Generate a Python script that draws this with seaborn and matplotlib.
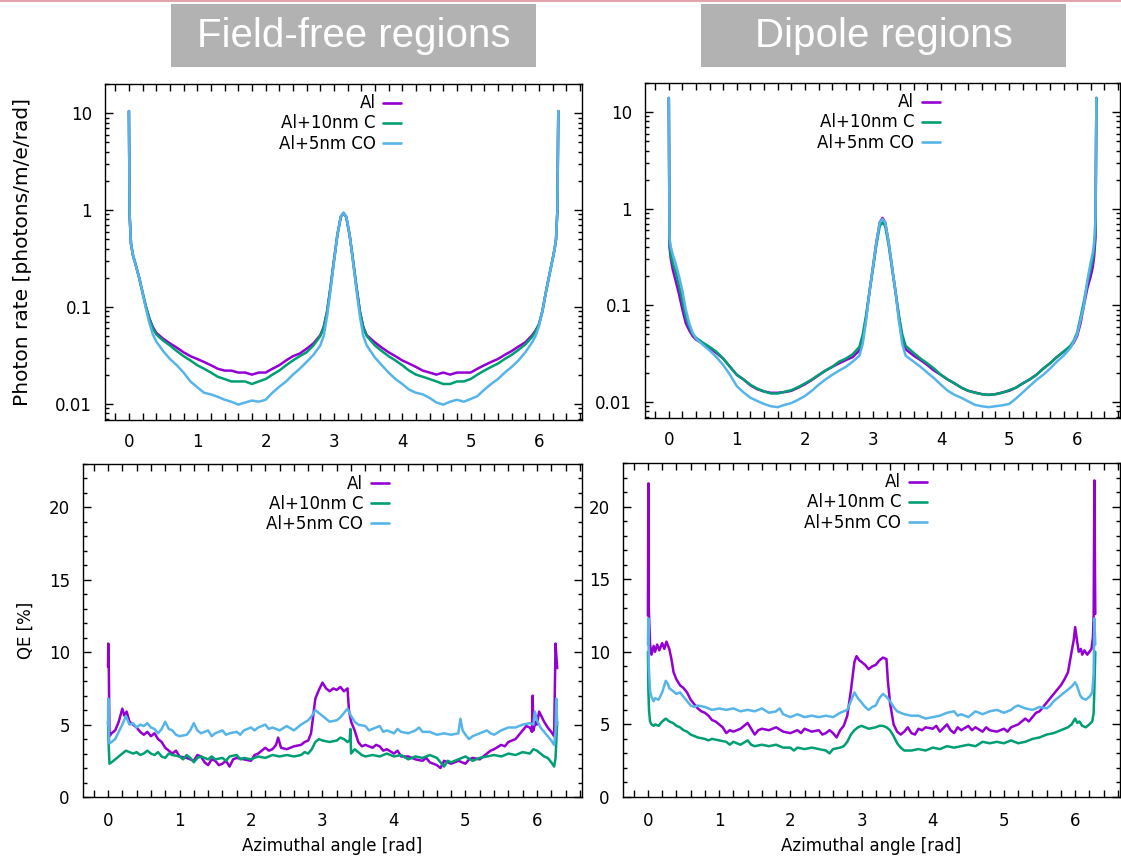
import matplotlib
matplotlib.use("Agg")
import numpy as np
import pandas as pd
import matplotlib.pyplot as plt
import seaborn as sns
from matplotlib.ticker import MultipleLocator, FixedLocator, FuncFormatter, NullFormatter
from matplotlib.patches import Rectangle
from matplotlib.lines import Line2D

# ---------------- data ----------------
series_names = ["Al", "Al+10nm C", "Al+5nm CO"]
series_colors = ["#9400D3", "#009E73", "#56B4E9"]
panel_titles = ["Field-free regions", "Dipole regions"]

# shared angle grid for the photon-rate panels [rad]
angle_rate = [0.0, 0.01, 0.03, 0.06, 0.1, 0.15, 0.2, 0.25, 0.3, 0.35,
              0.4, 0.5, 0.6, 0.7, 0.8, 0.9, 1.0, 1.1, 1.2, 1.3,
              1.4, 1.5, 1.6, 1.7, 1.8, 1.9, 2.0, 2.1, 2.2, 2.3,
              2.4, 2.5, 2.6, 2.7, 2.8, 2.85, 2.9, 2.95, 3.0, 3.05,
              3.1, 3.14, 3.18, 3.23, 3.28, 3.33, 3.38, 3.43, 3.48, 3.6,
              3.7, 3.8, 3.9, 4.0, 4.1, 4.2, 4.3, 4.4, 4.5, 4.6,
              4.7, 4.8, 4.9, 5.0, 5.1, 5.2, 5.3, 5.4, 5.5, 5.6,
              5.7, 5.8, 5.9, 5.95, 6.0, 6.05, 6.1, 6.15, 6.2, 6.23,
              6.25, 6.27, 6.283]

# field-free photon rate [photons/m/e/rad]
rate_ff_al = [10.5, 0.9, 0.45, 0.34, 0.27, 0.2, 0.14, 0.1, 0.076, 0.062,
              0.054, 0.047, 0.042, 0.038, 0.034, 0.031, 0.029, 0.027, 0.025, 0.023,
              0.022, 0.022, 0.021, 0.021, 0.020, 0.021, 0.021, 0.023, 0.025, 0.028,
              0.031, 0.033, 0.037, 0.042, 0.051, 0.062, 0.09, 0.16, 0.30, 0.55,
              0.85, 0.93, 0.85, 0.55, 0.30, 0.16, 0.09, 0.062, 0.051, 0.043,
              0.038, 0.034, 0.031, 0.028, 0.026, 0.024, 0.022, 0.021, 0.020, 0.021,
              0.020, 0.021, 0.021, 0.021, 0.023, 0.025, 0.027, 0.029, 0.032, 0.035,
              0.039, 0.043, 0.051, 0.057, 0.066, 0.09, 0.14, 0.21, 0.31, 0.40,
              0.50, 1.0, 10.5]
rate_ff_c = [10.5, 0.9, 0.45, 0.34, 0.27, 0.2, 0.14, 0.1, 0.075, 0.06,
             0.052, 0.045, 0.040, 0.035, 0.031, 0.028, 0.025, 0.023, 0.021, 0.019,
             0.018, 0.017, 0.017, 0.017, 0.016, 0.017, 0.018, 0.020, 0.022, 0.025,
             0.028, 0.031, 0.034, 0.040, 0.050, 0.061, 0.09, 0.16, 0.30, 0.55,
             0.85, 0.93, 0.85, 0.55, 0.30, 0.16, 0.09, 0.061, 0.050, 0.040,
             0.035, 0.031, 0.028, 0.025, 0.022, 0.020, 0.019, 0.018, 0.017, 0.016,
             0.016, 0.017, 0.017, 0.018, 0.020, 0.022, 0.024, 0.026, 0.029, 0.032,
             0.036, 0.041, 0.049, 0.056, 0.066, 0.09, 0.14, 0.21, 0.31, 0.40,
             0.50, 1.0, 10.5]
rate_ff_co = [10.5, 0.9, 0.45, 0.34, 0.27, 0.2, 0.14, 0.095, 0.068, 0.052,
              0.044, 0.035, 0.029, 0.025, 0.021, 0.017, 0.0148, 0.013, 0.0125, 0.0118,
              0.011, 0.0105, 0.0098, 0.0103, 0.0108, 0.0105, 0.011, 0.013, 0.015, 0.017,
              0.020, 0.023, 0.027, 0.032, 0.040, 0.05, 0.08, 0.15, 0.29, 0.55,
              0.86, 0.94, 0.86, 0.55, 0.29, 0.15, 0.08, 0.05, 0.040, 0.030,
              0.025, 0.021, 0.018, 0.016, 0.014, 0.013, 0.0125, 0.0115, 0.0103, 0.0098,
              0.0105, 0.011, 0.0105, 0.0112, 0.012, 0.014, 0.016, 0.018, 0.021, 0.024,
              0.028, 0.034, 0.043, 0.05, 0.063, 0.09, 0.14, 0.21, 0.31, 0.40,
              0.50, 1.0, 10.5]

# dipole photon rate [photons/m/e/rad]
rate_dp_al = [14.0, 0.4, 0.3, 0.23, 0.18, 0.13, 0.09, 0.065, 0.055, 0.048,
              0.044, 0.040, 0.036, 0.032, 0.028, 0.023, 0.019, 0.017, 0.0148, 0.0135,
              0.0128, 0.0124, 0.0124, 0.0126, 0.013, 0.014, 0.0152, 0.0168, 0.0188, 0.021,
              0.023, 0.025, 0.027, 0.029, 0.034, 0.045, 0.075, 0.14, 0.25, 0.45,
              0.72, 0.80, 0.72, 0.45, 0.25, 0.14, 0.075, 0.045, 0.035, 0.030,
              0.027, 0.024, 0.021, 0.019, 0.017, 0.0155, 0.014, 0.013, 0.0125, 0.012,
              0.0118, 0.012, 0.0125, 0.013, 0.014, 0.0155, 0.017, 0.019, 0.022, 0.025,
              0.029, 0.033, 0.037, 0.041, 0.048, 0.065, 0.1, 0.15, 0.2, 0.25,
              0.32, 0.5, 14.0]
rate_dp_c = [14.0, 0.45, 0.33, 0.27, 0.22, 0.16, 0.11, 0.075, 0.06, 0.05,
             0.046, 0.041, 0.037, 0.033, 0.028, 0.023, 0.019, 0.017, 0.015, 0.0137,
             0.0128, 0.0122, 0.0122, 0.0127, 0.0132, 0.0142, 0.0155, 0.017, 0.019, 0.021,
             0.023, 0.026, 0.028, 0.031, 0.037, 0.05, 0.08, 0.14, 0.24, 0.42,
             0.66, 0.72, 0.66, 0.42, 0.24, 0.14, 0.08, 0.05, 0.038, 0.032,
             0.028, 0.025, 0.022, 0.019, 0.017, 0.0155, 0.014, 0.013, 0.0124, 0.012,
             0.0118, 0.012, 0.0124, 0.0132, 0.014, 0.0155, 0.017, 0.019, 0.022, 0.025,
             0.029, 0.033, 0.038, 0.043, 0.052, 0.075, 0.11, 0.17, 0.24, 0.3,
             0.38, 0.6, 14.0]
rate_dp_co = [14.0, 0.5, 0.4, 0.33, 0.27, 0.2, 0.14, 0.09, 0.065, 0.052,
              0.045, 0.039, 0.034, 0.029, 0.024, 0.019, 0.0145, 0.0125, 0.011, 0.0102,
              0.0095, 0.009, 0.0088, 0.0093, 0.0097, 0.0105, 0.0115, 0.013, 0.015, 0.017,
              0.019, 0.021, 0.023, 0.026, 0.030, 0.04, 0.07, 0.14, 0.25, 0.45,
              0.72, 0.78, 0.72, 0.45, 0.25, 0.14, 0.07, 0.04, 0.030, 0.026,
              0.023, 0.020, 0.0175, 0.015, 0.013, 0.0118, 0.011, 0.0101, 0.0093, 0.009,
              0.0088, 0.009, 0.0092, 0.0095, 0.0108, 0.0125, 0.0145, 0.0168, 0.019, 0.022,
              0.026, 0.030, 0.036, 0.042, 0.05, 0.07, 0.1, 0.18, 0.28, 0.35,
              0.45, 0.8, 14.0]

# field-free QE [%]: (angle [rad], QE)
qe_ff_al = [(0.0, 9.0), (0.004, 10.6), (0.012, 8.5), (0.02, 4.2), (0.05, 4.4), (0.1, 4.6),
            (0.15, 5.2), (0.2, 6.1), (0.23, 5.6), (0.26, 5.9), (0.3, 5.2), (0.35, 5.0),
            (0.4, 4.8), (0.45, 4.5), (0.5, 4.3), (0.55, 4.5), (0.6, 4.2), (0.65, 4.4),
            (0.7, 4.0), (0.75, 3.8), (0.8, 3.4), (0.85, 3.2), (0.9, 3.0), (0.95, 3.2),
            (1.0, 2.8), (1.1, 2.7), (1.2, 2.5), (1.25, 2.9), (1.3, 2.8), (1.35, 2.4),
            (1.4, 2.2), (1.45, 2.6), (1.5, 2.5), (1.55, 2.2), (1.6, 2.3), (1.65, 2.5),
            (1.7, 2.1), (1.75, 2.6), (1.8, 2.7), (1.9, 2.6), (2.0, 2.5), (2.05, 2.9),
            (2.1, 3.0), (2.2, 3.4), (2.25, 3.2), (2.3, 3.3), (2.35, 3.6), (2.38, 4.1),
            (2.42, 3.4), (2.5, 3.3), (2.6, 3.5), (2.7, 3.6), (2.75, 3.8), (2.8, 3.9),
            (2.84, 4.4), (2.87, 5.6), (2.9, 6.8), (2.95, 7.4), (3.0, 7.9), (3.05, 7.5),
            (3.1, 7.3), (3.15, 7.5), (3.2, 7.4), (3.25, 7.6), (3.3, 7.3), (3.35, 7.5),
            (3.37, 6.0), (3.4, 5.2), (3.45, 4.6), (3.5, 3.8), (3.55, 3.5), (3.6, 3.6),
            (3.7, 3.4), (3.75, 3.6), (3.8, 3.5), (3.85, 3.2), (3.9, 3.3), (4.0, 3.0),
            (4.05, 3.2), (4.1, 2.8), (4.2, 2.8), (4.3, 2.6), (4.4, 2.5), (4.45, 2.7),
            (4.5, 2.4), (4.6, 2.2), (4.65, 2.0), (4.7, 2.5), (4.8, 2.3), (4.9, 2.5),
            (5.0, 2.3), (5.05, 2.6), (5.1, 2.7), (5.2, 2.6), (5.3, 3.0), (5.35, 3.2),
            (5.4, 3.3), (5.5, 3.6), (5.55, 3.5), (5.6, 3.8), (5.7, 4.0), (5.75, 4.3),
            (5.8, 4.6), (5.85, 4.9), (5.9, 4.8), (5.93, 4.5), (5.94, 7.0), (5.95, 4.6),
            (5.98, 5.2), (6.0, 5.0), (6.03, 5.9), (6.07, 5.5), (6.1, 5.2), (6.15, 4.8),
            (6.2, 4.5), (6.24, 4.2), (6.26, 10.6), (6.283, 8.9)]
qe_ff_c = [(0.0, 5.2), (0.01, 3.5), (0.02, 2.3), (0.05, 2.4), (0.1, 2.6), (0.15, 2.8),
           (0.2, 3.0), (0.25, 3.2), (0.3, 3.1), (0.35, 3.0), (0.4, 3.1), (0.45, 2.9),
           (0.5, 3.0), (0.55, 3.2), (0.6, 3.0), (0.65, 2.9), (0.7, 3.1), (0.75, 2.8),
           (0.8, 2.7), (0.85, 3.0), (0.9, 2.9), (1.0, 2.8), (1.05, 2.6), (1.1, 2.9),
           (1.15, 2.7), (1.2, 2.4), (1.25, 2.7), (1.3, 2.8), (1.4, 2.6), (1.45, 2.8),
           (1.5, 2.6), (1.6, 2.7), (1.65, 2.5), (1.7, 2.8), (1.8, 2.9), (1.85, 2.6),
           (1.9, 2.7), (2.0, 2.6), (2.1, 2.8), (2.2, 2.7), (2.3, 2.9), (2.4, 2.8),
           (2.5, 2.9), (2.6, 2.8), (2.7, 2.9), (2.75, 3.1), (2.8, 3.0), (2.85, 3.3),
           (2.9, 3.8), (2.95, 4.0), (3.0, 3.9), (3.1, 3.8), (3.2, 3.9), (3.25, 4.1),
           (3.3, 4.0), (3.35, 3.8), (3.38, 3.9), (3.39, 4.7), (3.4, 3.0), (3.45, 3.3),
           (3.5, 3.1), (3.55, 2.9), (3.6, 2.8), (3.7, 2.9), (3.8, 2.8), (3.9, 3.0),
           (4.0, 2.8), (4.1, 2.9), (4.2, 2.6), (4.3, 2.8), (4.4, 2.7), (4.5, 2.9),
           (4.6, 2.7), (4.65, 2.4), (4.7, 2.1), (4.75, 2.5), (4.8, 2.4), (4.9, 2.6),
           (5.0, 2.8), (5.1, 2.5), (5.2, 2.7), (5.3, 2.8), (5.4, 2.9), (5.5, 2.8),
           (5.6, 3.0), (5.7, 2.9), (5.8, 3.1), (5.9, 3.0), (5.95, 3.3), (6.0, 3.2),
           (6.05, 3.0), (6.1, 2.8), (6.15, 2.7), (6.2, 2.4), (6.24, 2.1), (6.26, 2.7),
           (6.283, 5.2)]
qe_ff_co = [(0.0, 5.0), (0.003, 6.8), (0.01, 4.5), (0.02, 3.7), (0.05, 3.8), (0.1, 4.0),
            (0.15, 4.5), (0.2, 5.0), (0.25, 5.6), (0.3, 5.0), (0.35, 5.1), (0.4, 4.8),
            (0.45, 5.0), (0.5, 4.9), (0.55, 5.1), (0.6, 4.8), (0.65, 4.7), (0.7, 4.4),
            (0.75, 4.7), (0.8, 5.2), (0.85, 4.7), (0.9, 4.6), (0.95, 4.3), (1.0, 4.2),
            (1.1, 4.3), (1.15, 4.6), (1.2, 5.1), (1.25, 4.6), (1.3, 4.4), (1.4, 4.6),
            (1.45, 4.2), (1.5, 4.4), (1.6, 4.6), (1.65, 4.3), (1.7, 4.4), (1.8, 4.5),
            (1.85, 4.3), (1.9, 4.6), (2.0, 4.8), (2.05, 4.6), (2.1, 4.8), (2.2, 5.0),
            (2.25, 4.7), (2.3, 4.8), (2.4, 4.6), (2.5, 4.9), (2.6, 4.6), (2.7, 5.0),
            (2.8, 5.3), (2.85, 5.6), (2.9, 6.0), (2.95, 5.8), (3.0, 5.6), (3.05, 5.4),
            (3.1, 5.2), (3.2, 5.3), (3.25, 5.5), (3.3, 5.8), (3.35, 6.1), (3.4, 5.6),
            (3.45, 5.2), (3.5, 5.0), (3.6, 4.9), (3.65, 4.6), (3.7, 4.7), (3.8, 4.9),
            (3.85, 4.5), (3.9, 4.6), (4.0, 4.4), (4.05, 4.7), (4.1, 4.5), (4.2, 4.4),
            (4.3, 4.6), (4.35, 4.8), (4.4, 4.5), (4.5, 4.5), (4.6, 4.3), (4.7, 4.4),
            (4.8, 4.3), (4.9, 4.4), (4.93, 5.4), (4.96, 4.6), (5.0, 4.3), (5.05, 4.0),
            (5.1, 4.2), (5.2, 4.4), (5.3, 4.6), (5.35, 4.4), (5.4, 4.3), (5.5, 4.6),
            (5.6, 4.8), (5.7, 4.8), (5.8, 5.0), (5.9, 5.1), (5.95, 5.0), (5.97, 5.9),
            (6.0, 5.3), (6.05, 4.8), (6.1, 4.5), (6.15, 4.2), (6.2, 3.9), (6.24, 3.6),
            (6.26, 4.5), (6.27, 6.8), (6.283, 5.0)]

# dipole QE [%]: (angle [rad], QE)
qe_dp_al = [(0.0, 12.5), (0.006, 21.6), (0.012, 13.0), (0.03, 10.5), (0.05, 9.8), (0.08, 10.4),
            (0.1, 10.0), (0.13, 10.5), (0.16, 10.1), (0.2, 10.6), (0.23, 10.2), (0.26, 10.7),
            (0.3, 10.2), (0.33, 9.5), (0.36, 8.6), (0.4, 8.1), (0.45, 7.7), (0.5, 7.5),
            (0.55, 7.2), (0.6, 6.7), (0.65, 6.4), (0.7, 6.1), (0.75, 5.9), (0.8, 5.8),
            (0.85, 5.6), (0.9, 5.3), (0.95, 5.2), (1.0, 5.0), (1.05, 4.8), (1.1, 4.4),
            (1.15, 4.6), (1.2, 4.5), (1.3, 4.7), (1.35, 4.9), (1.4, 5.1), (1.45, 4.7),
            (1.5, 4.3), (1.55, 4.6), (1.6, 4.7), (1.7, 4.6), (1.8, 4.8), (1.9, 4.5),
            (2.0, 4.4), (2.1, 4.6), (2.15, 4.4), (2.2, 4.7), (2.3, 4.5), (2.4, 4.6),
            (2.45, 4.3), (2.5, 4.4), (2.55, 4.6), (2.6, 4.4), (2.65, 4.1), (2.7, 4.6),
            (2.75, 4.9), (2.8, 5.6), (2.85, 7.3), (2.9, 9.3), (2.93, 9.7), (2.97, 9.4),
            (3.0, 9.3), (3.05, 9.1), (3.1, 8.8), (3.15, 9.0), (3.2, 9.1), (3.25, 9.4),
            (3.3, 9.6), (3.35, 9.5), (3.37, 8.0), (3.4, 6.5), (3.45, 5.0), (3.5, 4.5),
            (3.55, 4.3), (3.6, 4.5), (3.65, 4.8), (3.7, 4.4), (3.75, 4.3), (3.8, 4.7),
            (3.85, 4.6), (3.9, 4.8), (4.0, 4.7), (4.05, 4.9), (4.1, 4.5), (4.2, 5.0),
            (4.25, 4.6), (4.3, 4.4), (4.35, 4.8), (4.4, 4.6), (4.5, 4.9), (4.55, 4.6),
            (4.6, 4.8), (4.7, 4.5), (4.75, 4.8), (4.8, 4.6), (4.9, 4.5), (5.0, 4.7),
            (5.05, 4.5), (5.1, 4.8), (5.2, 5.0), (5.3, 5.4), (5.35, 5.2), (5.4, 5.5),
            (5.45, 5.8), (5.5, 5.9), (5.55, 6.2), (5.6, 6.5), (5.7, 7.1), (5.75, 7.4),
            (5.8, 7.7), (5.85, 8.1), (5.9, 8.6), (5.95, 10.0), (5.98, 10.8), (6.0, 11.7),
            (6.02, 11.0), (6.05, 10.0), (6.08, 10.2), (6.1, 9.8), (6.13, 10.1), (6.17, 9.8),
            (6.2, 10.0), (6.23, 10.2), (6.25, 11.0), (6.26, 12.5), (6.27, 21.8), (6.283, 12.6)]
qe_dp_c = [(0.0, 10.0), (0.006, 7.4), (0.015, 6.0), (0.03, 5.2), (0.05, 5.0), (0.08, 4.9),
           (0.1, 5.0), (0.15, 4.9), (0.2, 5.2), (0.25, 5.4), (0.3, 5.2), (0.35, 5.1),
           (0.4, 4.9), (0.45, 4.8), (0.5, 4.6), (0.55, 4.5), (0.6, 4.3), (0.65, 4.2),
           (0.7, 4.1), (0.8, 4.0), (0.85, 3.9), (0.9, 4.0), (1.0, 3.9), (1.1, 3.8),
           (1.15, 3.6), (1.2, 3.8), (1.3, 3.6), (1.4, 3.9), (1.45, 3.6), (1.5, 3.5),
           (1.6, 3.6), (1.7, 3.5), (1.8, 3.6), (1.9, 3.4), (2.0, 3.4), (2.05, 3.2),
           (2.1, 3.4), (2.2, 3.3), (2.3, 3.4), (2.4, 3.3), (2.5, 3.2), (2.55, 3.0),
           (2.6, 3.3), (2.7, 3.4), (2.75, 3.5), (2.8, 3.8), (2.85, 4.3), (2.9, 4.6),
           (2.95, 4.8), (3.0, 4.9), (3.05, 4.8), (3.1, 4.7), (3.2, 4.8), (3.25, 4.9),
           (3.3, 4.9), (3.35, 4.8), (3.4, 4.6), (3.45, 4.2), (3.5, 3.7), (3.55, 3.4),
           (3.6, 3.2), (3.7, 3.2), (3.8, 3.3), (3.9, 3.2), (4.0, 3.4), (4.1, 3.3),
           (4.2, 3.5), (4.3, 3.4), (4.4, 3.5), (4.5, 3.6), (4.6, 3.5), (4.7, 3.8),
           (4.8, 3.7), (4.9, 3.8), (5.0, 3.7), (5.1, 3.9), (5.2, 3.7), (5.3, 3.8),
           (5.4, 4.0), (5.5, 4.1), (5.6, 4.3), (5.7, 4.4), (5.8, 4.6), (5.9, 4.8),
           (5.95, 5.0), (6.0, 5.4), (6.03, 5.1), (6.06, 5.2), (6.1, 4.9), (6.15, 4.8),
           (6.2, 5.0), (6.24, 5.2), (6.26, 5.8), (6.27, 7.4), (6.283, 10.0)]
qe_dp_co = [(0.0, 10.5), (0.005, 12.3), (0.012, 9.0), (0.03, 7.3), (0.05, 6.9), (0.08, 6.6),
            (0.1, 6.8), (0.15, 6.7), (0.2, 7.2), (0.25, 8.0), (0.28, 7.8), (0.3, 7.5),
            (0.35, 7.3), (0.4, 7.1), (0.45, 7.2), (0.5, 6.9), (0.55, 6.6), (0.6, 6.3),
            (0.65, 6.2), (0.7, 6.3), (0.8, 6.2), (0.9, 6.0), (1.0, 6.1), (1.1, 6.0),
            (1.2, 6.1), (1.3, 5.9), (1.4, 6.0), (1.5, 5.9), (1.6, 6.1), (1.7, 5.8),
            (1.8, 5.9), (1.85, 6.1), (1.9, 5.7), (2.0, 5.5), (2.1, 5.7), (2.2, 5.5),
            (2.3, 5.6), (2.4, 5.5), (2.5, 5.6), (2.6, 5.5), (2.7, 5.8), (2.8, 6.0),
            (2.85, 6.6), (2.9, 7.2), (2.95, 6.8), (3.0, 6.5), (3.05, 6.2), (3.1, 6.0),
            (3.15, 6.2), (3.2, 6.3), (3.25, 6.8), (3.3, 7.1), (3.35, 6.9), (3.4, 6.6),
            (3.45, 6.2), (3.5, 5.9), (3.6, 5.7), (3.7, 5.6), (3.8, 5.6), (3.9, 5.4),
            (4.0, 5.5), (4.1, 5.6), (4.2, 5.8), (4.3, 5.9), (4.35, 5.6), (4.4, 5.7),
            (4.5, 5.5), (4.6, 5.9), (4.7, 5.7), (4.8, 5.9), (4.9, 6.0), (5.0, 5.8),
            (5.1, 6.0), (5.15, 6.2), (5.2, 6.3), (5.3, 6.1), (5.4, 6.0), (5.5, 6.2),
            (5.6, 6.1), (5.65, 6.3), (5.7, 6.6), (5.8, 7.0), (5.9, 7.4), (5.95, 7.6),
            (6.0, 7.9), (6.03, 7.6), (6.07, 7.0), (6.1, 6.8), (6.15, 6.7), (6.2, 6.9),
            (6.24, 7.2), (6.26, 8.5), (6.27, 12.3), (6.283, 10.5)]

# ---------------- style ----------------
sns.set_theme(style="ticks")
plt.rcParams['font.family'] = ['DejaVu Sans']
plt.rcParams['axes.linewidth'] = 1.0
plt.rcParams['axes.edgecolor'] = 'black'
plt.rcParams['xtick.color'] = 'black'
plt.rcParams['ytick.color'] = 'black'
plt.rcParams['text.color'] = 'black'
plt.rcParams['axes.labelcolor'] = 'black'
plt.rcParams['xtick.labelcolor'] = 'black'
plt.rcParams['ytick.labelcolor'] = 'black'
plt.rcParams['legend.labelcolor'] = 'black'
FS = 12

W, H = 1121, 856
fig = plt.figure(figsize=(W / 100, H / 100), dpi=100)
fig.patch.set_facecolor('white')


def px_axes(left, top, right, bottom):
    return fig.add_axes([left / W, 1 - bottom / H, (right - left) / W, (bottom - top) / H])


ax_tl = px_axes(105, 84, 582, 420)
ax_tr = px_axes(645, 83, 1120, 418)
ax_bl = px_axes(83, 464, 582, 797)
ax_br = px_axes(623, 463, 1120, 797)

palette = dict(zip(series_names, series_colors))


def frame_from_grid(xs, ys_list):
    parts = []
    for name, ys in zip(series_names, ys_list):
        parts.append(pd.DataFrame({"angle": xs, "value": ys, "series": name}))
    return pd.concat(parts, ignore_index=True)


def frame_from_pairs(pairs_list):
    parts = []
    for name, pairs in zip(series_names, pairs_list):
        xs, ys = zip(*pairs)
        parts.append(pd.DataFrame({"angle": xs, "value": ys, "series": name}))
    return pd.concat(parts, ignore_index=True)


def style_axes(ax, logy, legend_xy):
    ax.set_xlim(-0.35, 6.63)
    ax.xaxis.set_major_locator(MultipleLocator(1))
    ax.xaxis.set_minor_locator(MultipleLocator(0.2))
    if logy:
        ax.set_yscale('log')
        ax.set_ylim(0.0068, 20)
        ax.yaxis.set_major_locator(FixedLocator([0.01, 0.1, 1, 10]))
        ax.yaxis.set_major_formatter(FuncFormatter(
            lambda v, p: {0.01: "0.01", 0.1: "0.1", 1: "1", 10: "10"}.get(round(v, 3), "")))
        minors = [m * 10.0 ** e for e in range(-3, 2) for m in range(2, 10)]
        ax.yaxis.set_minor_locator(FixedLocator(minors))
        ax.yaxis.set_minor_formatter(NullFormatter())
        pad_x = 9.5
    else:
        ax.set_ylim(0, 23)
        ax.yaxis.set_major_locator(MultipleLocator(5))
        ax.yaxis.set_minor_locator(MultipleLocator(1))
        pad_x = 10.5
    ax.tick_params(which='both', direction='in', top=True, right=True,
                   labelsize=FS, width=1.0, colors='black')
    ax.tick_params(axis='x', which='both', length=5, pad=pad_x)
    ax.tick_params(axis='y', which='major', length=5.5, pad=9.5)
    ax.tick_params(axis='y', which='minor', length=3)
    for s in ax.spines.values():
        s.set_visible(True)
        s.set_color('black')
        s.set_linewidth(1.0)
    ax.set_xlabel("")
    ax.set_ylabel("")
    handles = [Line2D([], [], color=c, lw=1.9) for c in series_colors]
    ax.legend(handles, series_names, loc='upper right', bbox_to_anchor=legend_xy,
              frameon=False, markerfirst=False, handlelength=1.1, handletextpad=0.45,
              labelspacing=0.125, borderpad=0, borderaxespad=0, fontsize=FS,
              labelcolor='black')


panels = [
    (ax_tl, frame_from_grid(angle_rate, [rate_ff_al, rate_ff_c, rate_ff_co]), True, (0.621, 0.969)),
    (ax_tr, frame_from_grid(angle_rate, [rate_dp_al, rate_dp_c, rate_dp_co]), True, (0.621, 0.969)),
    (ax_bl, frame_from_pairs([qe_ff_al, qe_ff_c, qe_ff_co]), False, (0.613, 0.968)),
    (ax_br, frame_from_pairs([qe_dp_al, qe_dp_c, qe_dp_co]), False, (0.612, 0.969)),
]

for ax, df, logy, lxy in panels:
    sns.lineplot(data=df, x="angle", y="value", hue="series", hue_order=series_names,
                 palette=palette, sort=False, estimator=None, linewidth=1.8,
                 legend=False, ax=ax)
    style_axes(ax, logy, lxy)

ax_tl.set_ylabel("Photon rate [photons/m/e/rad]", fontsize=14.5, color='black')
ax_tl.yaxis.set_label_coords((32 - 105) / 477, 0.5)
ax_bl.set_ylabel("QE [%]", fontsize=FS, color='black')
ax_bl.yaxis.set_label_coords((35 - 83) / 499, 0.5)
for ax in (ax_bl, ax_br):
    ax.set_xlabel("Azimuthal angle [rad]", fontsize=FS, color='black')
    ax.xaxis.set_label_coords(0.5, -(837 - 797) / 333)

# title boxes
for title, x0 in zip(panel_titles, [171, 701]):
    fig.add_artist(Rectangle((x0 / W, 1 - 67 / H), 365 / W, 63 / H,
                             transform=fig.transFigure, facecolor="#b2b2b2",
                             edgecolor="none", zorder=0))
    fig.text((x0 + 182.5) / W, 1 - 36 / H, title, ha='center', va='center',
             color='white', fontsize=29, family=['Liberation Sans', 'DejaVu Sans'])

# thin rule at the top edge
fig.add_artist(Line2D([0, 1], [1 - 0.8 / H, 1 - 0.8 / H], transform=fig.transFigure,
                      color="#e3a3aa", lw=1.5))

fig.savefig("out.png", dpi=100)
